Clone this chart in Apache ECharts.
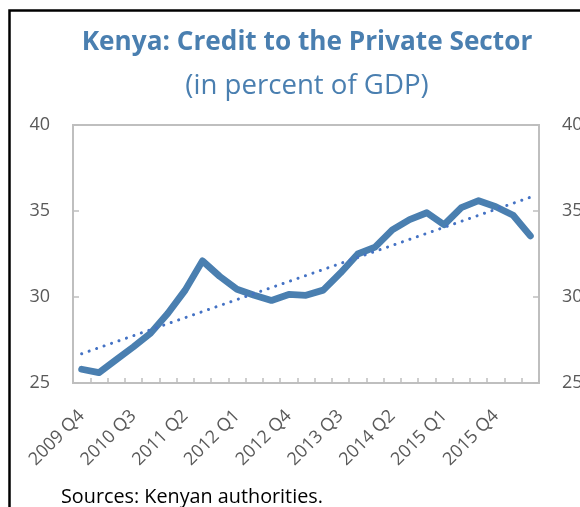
<!DOCTYPE html>
<html>
<head>
<meta charset="utf-8">
<script src="https://cdn.jsdelivr.net/npm/echarts@6/dist/echarts.min.js"></script>
<style>html,body{margin:0;padding:0;background:#fff;}#c{width:580px;height:507px;}</style>
</head>
<body>
<div id="c"></div>
<script>
const quarters = ["2009 Q4","2010 Q1","2010 Q2","2010 Q3","2010 Q4","2011 Q1","2011 Q2","2011 Q3","2011 Q4","2012 Q1","2012 Q2","2012 Q3","2012 Q4","2013 Q1","2013 Q2","2013 Q3","2013 Q4","2014 Q1","2014 Q2","2014 Q3","2014 Q4","2015 Q1","2015 Q2","2015 Q3","2015 Q4","2016 Q1","2016 Q2"];
const credit = [25.8,25.6,26.35,27.1,27.9,29.05,30.4,32.1,31.2,30.45,30.1,29.8,30.15,30.1,30.4,31.4,32.5,32.9,33.9,34.5,34.9,34.2,35.2,35.6,35.25,34.75,33.55];
const trend = [26.7,null,null,null,null,null,null,null,null,null,null,null,null,null,null,null,null,null,null,null,null,null,null,null,null,null,35.8];
const yTicks = [25,30,35,40];
const titleText = "Kenya: Credit to the Private Sector";
const subtitleText = "(in percent of GDP)";
const sourceText = "Sources: Kenyan authorities.";

const FONT = "'Open Sans', sans-serif";
const AX = '#BFBFBF';
const LBL = '#595959';
const chart = echarts.init(document.getElementById('c'), null, {renderer: 'canvas'});
chart.setOption({
  animation: false,
  backgroundColor: '#fff',
  grid: {left: 73, right: 41, top: 125, bottom: 124, show: true, borderColor: AX, borderWidth: 2, containLabel: false, outerBoundsMode: 'none'},
  graphic: [
    {type: 'rect', shape: {x: 9.5, y: 10.5, width: 800, height: 800}, style: {fill: null, stroke: '#000', lineWidth: 2.5}, silent: true, z: 0},
    {type: 'text', x: 307, y: 43, style: {text: titleText, font: "bold 26.2px 'Open Sans', sans-serif", fill: '#4A7FB0', textAlign: 'center', textVerticalAlign: 'middle'}},
    {type: 'text', x: 307, y: 86, style: {text: subtitleText, font: "27.6px 'Open Sans', sans-serif", fill: '#4A7FB0', textAlign: 'center', textVerticalAlign: 'middle'}},
    {type: 'text', x: 61, y: 497, style: {text: sourceText, font: "19.8px 'Open Sans', sans-serif", fill: '#000', textAlign: 'left', textVerticalAlign: 'middle'}}
  ],
  xAxis: {
    type: 'category', data: quarters, boundaryGap: true,
    axisLine: {show: true, lineStyle: {color: AX, width: 2}},
    axisTick: {show: true, inside: true, length: 5, interval: 0, lineStyle: {color: AX, width: 1.5}},
    axisLabel: {interval: 2, rotate: 45, margin: 30, fontSize: 18, fontFamily: FONT, color: LBL},
    splitLine: {show: false}
  },
  yAxis: [
    {type: 'value', min: yTicks[0], max: yTicks[yTicks.length-1], interval: 5, position: 'left',
     axisLine: {show: true, lineStyle: {color: AX, width: 2}},
     axisTick: {show: true, inside: true, length: 6, lineStyle: {color: AX, width: 1.5}},
     axisLabel: {margin: 23, fontSize: 18, fontFamily: FONT, color: LBL},
     splitLine: {show: false}},
    {type: 'value', min: yTicks[0], max: yTicks[yTicks.length-1], interval: 5, position: 'right',
     axisLine: {show: true, lineStyle: {color: AX, width: 2}},
     axisTick: {show: true, inside: true, length: 6, lineStyle: {color: AX, width: 1.5}},
     axisLabel: {margin: 23, fontSize: 18, fontFamily: FONT, color: LBL},
     splitLine: {show: false}}
  ],
  series: [
    {type: 'line', data: credit, yAxisIndex: 0, showSymbol: false, symbol: 'none', z: 3,
     lineStyle: {color: '#4A7FB0', width: 6.8, cap: 'round', join: 'round'}},
    {type: 'line', data: trend, yAxisIndex: 0, connectNulls: true, showSymbol: false, symbol: 'none', z: 4,
     lineStyle: {color: '#4472C4', width: 3, type: [0.1, 7.8], cap: 'round'}}
  ]
});
</script>
</body>
</html>
